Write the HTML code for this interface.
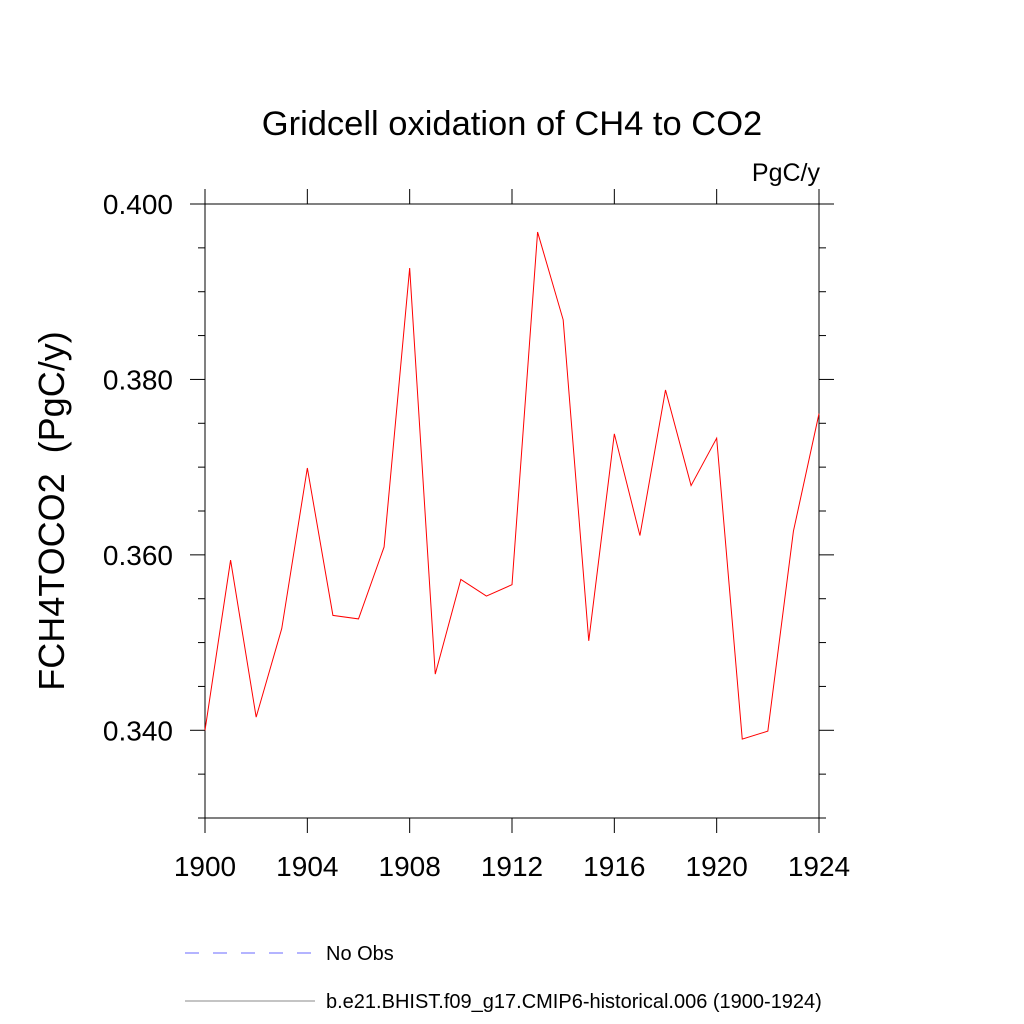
<!DOCTYPE html>
<html><head><meta charset="utf-8"><style>
html,body{margin:0;padding:0;background:#fff;width:1024px;height:1024px;overflow:hidden}
svg text{font-family:"Liberation Sans",sans-serif;fill:#000}
</style></head><body>
<svg id="chart" width="1024" height="1024" xmlns="http://www.w3.org/2000/svg">
<text x="512" y="135" font-size="34.5" text-anchor="middle">Gridcell oxidation of CH4 to CO2</text>
<text x="820" y="181" font-size="25" text-anchor="end">PgC/y</text>
<text transform="translate(64,511) rotate(-90)" font-size="36" text-anchor="middle" style="white-space:pre">FCH4TOCO2  (PgC/y)</text>
<rect x="205" y="204" width="614" height="614" fill="none" stroke="#000" stroke-width="1"/>
<g id="ticks"></g>
<polyline id="series" fill="none" stroke="#ff0000" stroke-width="1"/>
<line x1="185" y1="953" x2="315" y2="953" stroke="#6a6aff" stroke-dasharray="14,14"/>
<text x="326" y="960" font-size="20">No Obs</text>
<line x1="185" y1="1001" x2="315" y2="1001" stroke="#888" stroke-width="1"/>
<text x="326" y="1008" font-size="20">b.e21.BHIST.f09_g17.CMIP6-historical.006 (1900-1924)</text>
</svg>
<script>
const years=[1900,1901,1902,1903,1904,1905,1906,1907,1908,1909,1910,1911,1912,1913,1914,1915,1916,1917,1918,1919,1920,1921,1922,1923,1924];
const values=[0.3400,0.3594,0.3415,0.3516,0.3699,0.3531,0.3527,0.3609,0.3927,0.3464,0.3572,0.3553,0.3566,0.3968,0.3868,0.3502,0.3738,0.3622,0.3788,0.3679,0.3733,0.3390,0.3399,0.3627,0.3761];
const xTicks=[1900,1904,1908,1912,1916,1920,1924];
const yTicks=[0.340,0.360,0.380,0.400];
const yTickLabels=["0.340","0.360","0.380","0.400"];
const L=205,R=819,T=204,B=818,x0=1900,x1=1924,y0=0.330,y1=0.400;
const X=v=>L+(v-x0)/(x1-x0)*(R-L);
const Y=v=>B-(v-y0)/(y1-y0)*(B-T);
const NS="http://www.w3.org/2000/svg";
const g=document.getElementById('ticks');
function ln(a,b,c,d,name){const e=document.createElementNS(NS,'line');e.setAttribute('x1',a);e.setAttribute('y1',b);e.setAttribute('x2',c);e.setAttribute('y2',d);e.setAttribute('stroke','#000');


g.appendChild(e);}
function tx(x,y,s,anchor,name){const e=document.createElementNS(NS,'text');e.setAttribute('x',x);e.setAttribute('y',y);e.setAttribute('font-size','28');e.setAttribute('text-anchor',anchor);e.textContent=s;


g.appendChild(e);}
xTicks.forEach(v=>{ln(X(v),B,X(v),B+15,'x-tick');ln(X(v),T,X(v),T-15,'x-tick-top');});
xTicks.forEach(v=>tx(X(v),876,String(v),'middle','x-tick-label'));
for(let i=0;i<=14;i++){const v=y0+i*0.005;const major=i%4===2;const len=major?15:7;
ln(L,Y(v),L-len,Y(v),'y-tick');ln(R,Y(v),R+len,Y(v),'y-tick-right');}
yTicks.forEach((v,i)=>tx(173,Y(v)+10,yTickLabels[i],'end','y-tick-label'));
document.getElementById('series').setAttribute('points',years.map((y,i)=>X(y)+','+Y(values[i])).join(' '));
</script>
</body></html>
